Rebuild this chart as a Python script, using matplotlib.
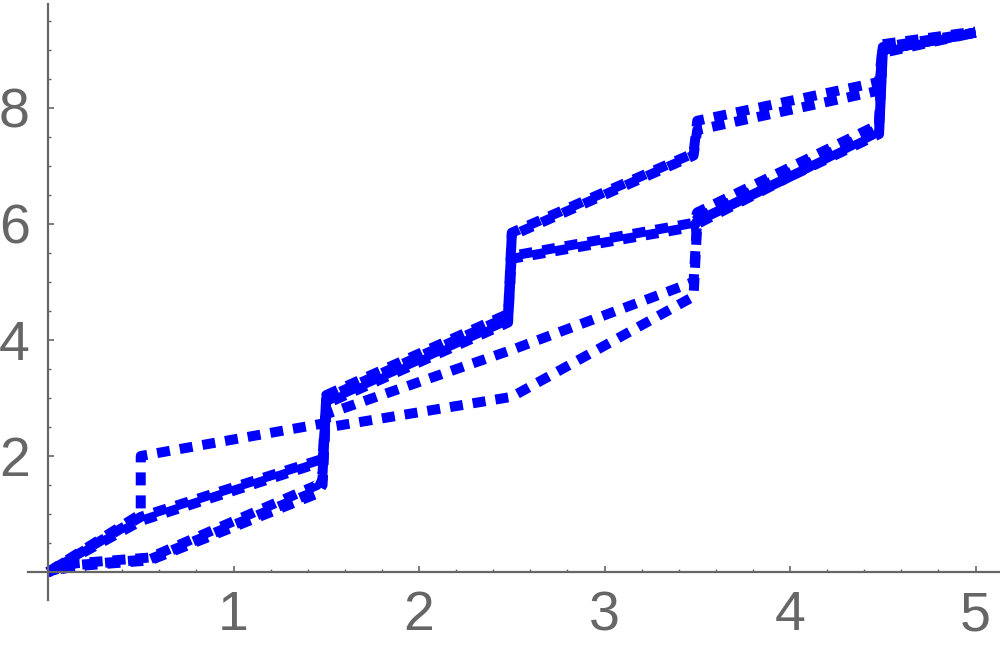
import numpy as np
import matplotlib.pyplot as plt
from matplotlib.ticker import FixedLocator

# curve data (x, y)
x_a = [0, 0.5, 0.5, 1.5, 1.52, 2.5, 3.48, 3.5, 4.48, 4.5, 5.0]
y_a = [0, 1.0, 2.0, 2.57, 2.5, 3.02, 4.75, 6.0, 7.6, 9.0, 9.3]

x_b = [0, 0.5, 1.48, 1.5, 2.5, 3.48, 3.5, 4.48, 4.5, 5.0]
y_b = [0, 0.88, 1.9, 2.72, 3.83, 5.0, 6.1, 7.65, 9.05, 9.3]

x_c = [0, 0.15, 0.55, 1.45, 1.48, 1.5, 2.48, 2.5, 3.48, 3.5, 4.48, 4.5, 5.0]
y_c = [0, 0.12, 0.22, 1.4, 1.6, 3.05, 4.45, 5.85, 7.22, 7.78, 8.45, 9.1, 9.32]

x_d = [0, 0.15, 0.55, 1.45, 1.48, 1.5, 2.48, 2.5, 3.48, 3.5, 4.48, 4.5, 5.0]
y_d = [0, 0.15, 0.25, 1.5, 1.7, 2.95, 4.35, 5.8, 7.18, 7.62, 8.3, 9.0, 9.3]

x_e = [0, 0.5, 1.48, 1.5, 2.48, 2.5, 3.48, 3.5, 4.48, 4.5, 5.0]
y_e = [0, 0.95, 1.95, 3.0, 4.4, 5.45, 6.02, 6.2, 7.72, 9.0, 9.3]

x_f = [0, 0.15, 0.55, 1.45, 1.48, 1.5, 2.48, 2.5, 3.48, 3.5, 4.48, 4.5, 5.0]
y_f = [0, 0.1, 0.2, 1.35, 1.5, 2.9, 4.3, 5.4, 5.95, 6.05, 7.55, 8.95, 9.3]

curves = [(x_a, y_a), (x_b, y_b), (x_c, y_c), (x_d, y_d), (x_e, y_e), (x_f, y_f)]
offsets = [0, 0.6, 1.1, 0.3, 1.6, 0.9]

x_major = [1, 2, 3, 4, 5]
y_major = [2, 4, 6, 8]

fig = plt.figure(figsize=(10, 6.46), dpi=100)
ax = fig.add_axes([0, 0, 1, 1])
ax.set_xlim(-48 / 185.5, (1000 - 48) / 185.5)
ax.set_ylim((572 - 646) / 58, 572 / 58)

for (xs, ys), off in zip(curves, offsets):
    ax.plot(xs, ys, color='#0000ff', lw=7.2, linestyle=(off, (1.3, 1.0)),
            dash_capstyle='butt', solid_joinstyle='round', dash_joinstyle='round')

gray = '#666666'
for s in ['top', 'right']:
    ax.spines[s].set_visible(False)
ax.spines['left'].set_position(('data', 0))
ax.spines['bottom'].set_position(('data', 0))
ax.spines['left'].set_bounds(-0.48, 9.8)
ax.spines['bottom'].set_bounds(-0.108, 5.13)
for s in ['left', 'bottom']:
    ax.spines[s].set_color(gray)
    ax.spines[s].set_linewidth(1.6)

ax.set_xticks(x_major)
ax.set_yticks(y_major)
ax.xaxis.set_minor_locator(FixedLocator([v for v in np.arange(0.2, 5.01, 0.2) if abs(v - round(v)) > 1e-6]))
ax.yaxis.set_minor_locator(FixedLocator([v for v in np.arange(0.5, 9.6, 0.5) if v % 2 != 0]))
ax.tick_params(which='both', direction='in', color=gray, labelcolor=gray)
ax.tick_params(which='major', length=4, width=1.2, labelsize=40)
ax.tick_params(which='minor', length=2.5, width=1.0)
ax.tick_params(axis='x', pad=13)
ax.tick_params(axis='y', pad=13)
for lab in ax.get_xticklabels() + ax.get_yticklabels():
    lab.set_family('Liberation Sans')

fig.savefig('out.png', dpi=100)
